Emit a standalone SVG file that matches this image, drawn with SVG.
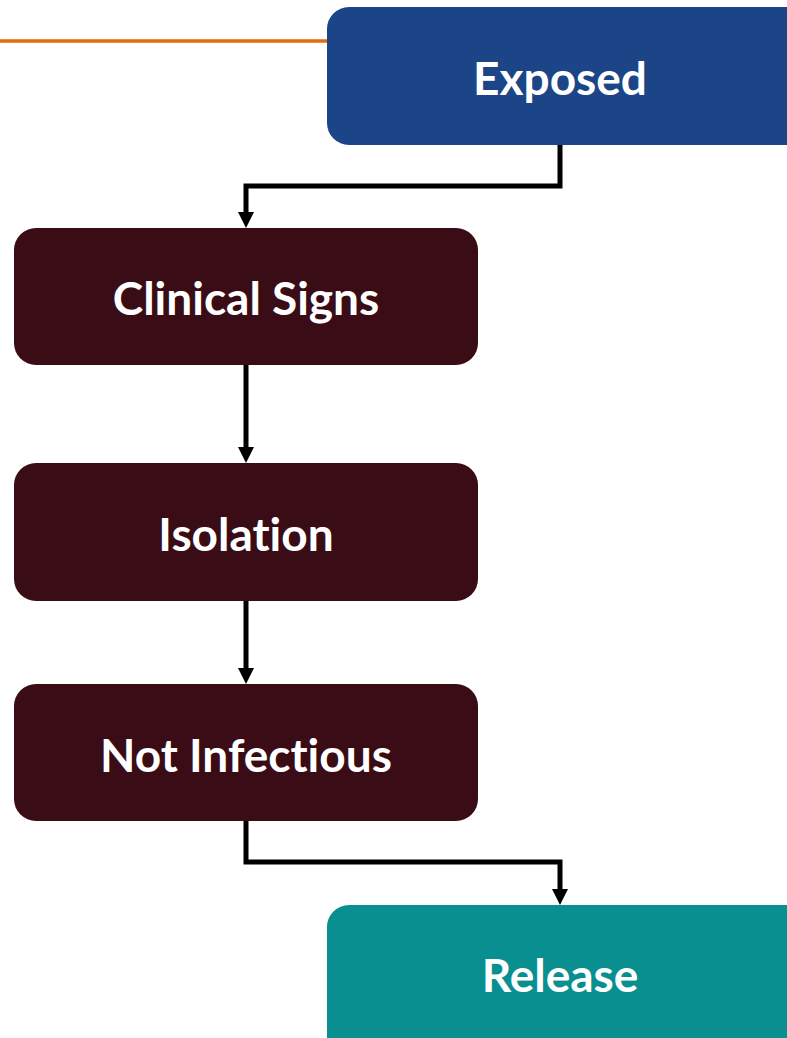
<svg xmlns="http://www.w3.org/2000/svg" width="787" height="1038" viewBox="0 0 787 1038">
<style>
.lbl{font-family:Lato,"Open Sans","Liberation Sans",sans-serif;font-weight:bold;font-size:46px;fill:#ffffff;text-anchor:middle;dominant-baseline:central;font-variant-ligatures:none;font-feature-settings:"liga" 0,"dlig" 0}
.con{fill:none;stroke:#000;stroke-width:5}
.maroon{fill:#3A0D16}
</style>
<rect width="787" height="1038" fill="#fff"/>
<line x1="0" y1="41" x2="330" y2="41" stroke="#E36C0A" stroke-width="3.5"/>
<g id="connectors">
<polyline class="con" points="560,145 560,186 246,186 246,212"/>
<path d="M238,212 L254,212 L246,228 Z"/>
<line class="con" x1="246" y1="365" x2="246" y2="447"/>
<path d="M238,447 L254,447 L246,463 Z"/>
<line class="con" x1="246" y1="601" x2="246" y2="668"/>
<path d="M238,668 L254,668 L246,684 Z"/>
<polyline class="con" points="246,821 246,862 560,862 560,889"/>
<path d="M552,889 L568,889 L560,905 Z"/>
</g>
<g id="exposed">
<rect x="327" y="7" width="480" height="138" rx="22" fill="#1C4587"/>
<text class="lbl" x="560" y="77">Exposed</text>
</g>
<g id="clinical">
<rect x="14" y="228" width="464" height="137" rx="22" class="maroon"/>
<text class="lbl" x="246" y="297">Clinical Signs</text>
</g>
<g id="isolation">
<rect x="14" y="463" width="464" height="138" rx="22" class="maroon"/>
<text class="lbl" x="246" y="533">Isolation</text>
</g>
<g id="notinfectious">
<rect x="14" y="684" width="464" height="137" rx="22" class="maroon"/>
<text class="lbl" x="246" y="754">Not Infectious</text>
</g>
<g id="release">
<rect x="327" y="905" width="480" height="160" rx="22" fill="#098F8F"/>
<text class="lbl" x="560" y="974">Release</text>
</g>
</svg>
